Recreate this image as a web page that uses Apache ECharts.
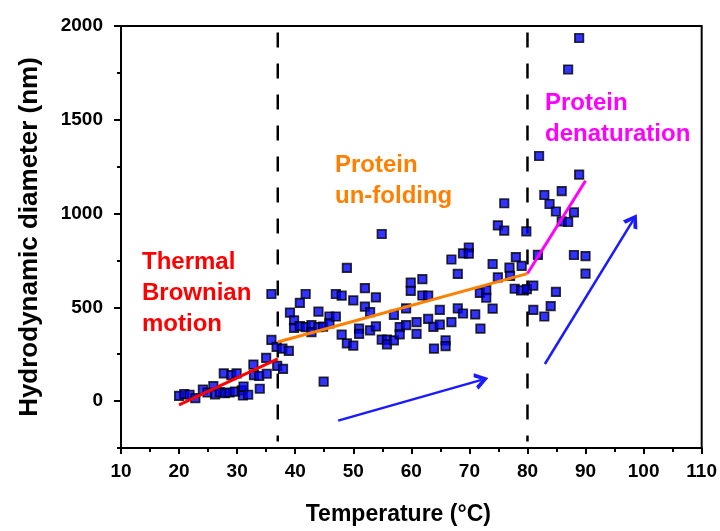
<!DOCTYPE html>
<html>
<head>
<meta charset="utf-8">
<script src="https://cdn.jsdelivr.net/npm/echarts@6/dist/echarts.min.js"></script>
<style>html,body{margin:0;padding:0;background:#fff}#c{width:720px;height:531px}</style>
</head>
<body>
<div id="c"></div>
<script>
// ---- data ----
const temperature = [
  20.0,20.9,21.8,22.8,24.1,24.9,25.9,26.2,27.0,27.7,27.9,28.7,29.0,29.6,29.9,30.8,31.0,31.1,31.9,32.8,32.9,33.8,33.9,35.0,35.1,35.9,35.9,36.8,36.9,37.8,37.9,38.9,
  39.1,39.8,39.8,40.8,40.8,41.8,41.8,42.8,42.8,44.0,44.0,44.8,44.9,45.9,45.9,47.0,47.0,48.0,48.0,48.9,48.9,50.0,50.0,51.0,51.0,52.0,52.0,52.9,52.9,53.9,53.9,54.9,54.9,55.8,55.8,57.0,57.0,58.0,58.0,59.1,59.1,59.9,59.9,60.9,60.9,
  61.9,61.9,62.9,62.9,63.8,63.9,64.9,64.9,65.9,65.9,66.9,66.9,68.0,68.0,68.9,68.9,69.9,69.9,71.0,71.8,71.9,72.9,72.9,74.0,74.0,74.9,74.9,76.0,76.0,76.9,77.0,78.0,77.8,79.0,78.9,79.8,79.9,81.0,81.0,
  81.8,82.0,82.9,82.9,83.8,84.0,84.9,84.9,85.9,85.9,87.0,87.0,88.0,88.0,88.9,88.9,90.0,90.0
];
const diameter = [
  28,38,34,16,62,46,80,36,48,148,42,46,139,51,148,57,30,78,34,195,139,134,66,231,146,571,326,289,188,280,172,268,
  472,430,390,524,400,571,395,405,368,477,395,397,104,451,414,451,571,562,354,710,308,296,537,386,359,602,504,474,377,553,398,891,328,328,303,324,460,395,356,494,405,632,588,421,359,
  650,563,562,438,396,280,486,408,324,293,755,421,678,494,788,467,819,786,462,577,386,592,551,731,493,660,937,1055,909,712,668,768,599,721,590,905,597,616,486,
  780,1307,1099,451,1051,506,1011,582,1120,958,1768,955,1006,779,1936,1208,773,680
];
// linear guide lines (two end points each)
const brownianX = [20, 37], brownianY = [-20, 225];
const unfoldX = [37, 80],   unfoldY = [315, 680];
const denatX = [80, 90],    denatY = [680, 1175];
// phase boundaries (°C) and their vertical extent
const boundaryTemps = [37, 80];
const boundarySpan = [1965, -215];
// trend arrows: [startT, startD, endT, endD]
const arrow1 = [47.4, -104, 72.1, 113];
const arrow2 = [83.0, 198, 98.2, 965];
// axis ticks
const yMajorTicks = [0, 500, 1000, 1500, 2000];
const yMinorTicks = [-250, 250, 750, 1250, 1750];

const FONT = "'Liberation Sans', Arial, sans-serif";
const pts = temperature.map((t, i) => [t, diameter[i]]);
const pair = (xs, ys) => xs.map((x, i) => [x, ys[i]]);
const chevron = 'path://M0,10 L6,0 L12,10 L9.3,11 L6,5.2 L2.7,11 Z';

const chart = echarts.init(document.getElementById('c'), null, {renderer: 'canvas'});
chart.setOption({
  animation: false,
  backgroundColor: '#fff',
  grid: {left: 121, right: 18, top: 26, bottom: 79, show: true, borderColor: '#000', borderWidth: 2},
  xAxis: {
    type: 'value', min: 10, max: 110, interval: 10,
    name: 'Temperature (°C)', nameLocation: 'middle', nameGap: 55,
    nameTextStyle: {fontFamily: FONT, fontWeight: 'bold', fontSize: 23, color: '#000', padding: [0, 26, 0, 0]},
    axisLine: {show: true, onZero: false, lineStyle: {color: '#000', width: 2}},
    axisTick: {show: true, inside: false, length: 6, lineStyle: {color: '#000', width: 2}},
    minorTick: {show: true, splitNumber: 2, length: 4, lineStyle: {color: '#000', width: 2}},
    axisLabel: {fontFamily: FONT, fontWeight: 'bold', fontSize: 19, color: '#000', margin: 14,
                formatter: v => String(v)},
    splitLine: {show: false}
  },
  yAxis: [{
    type: 'value', min: -250, max: 2000,
    name: 'Hydrodynamic diameter (nm)', nameLocation: 'middle', nameGap: 78,
    nameTextStyle: {fontFamily: FONT, fontWeight: 'bold', fontSize: 26, color: '#000'},
    axisLine: {show: true, onZero: false, lineStyle: {color: '#000', width: 2}},
    axisTick: {show: true, length: 7, customValues: yMajorTicks, lineStyle: {color: '#000', width: 2}},
    axisLabel: {fontFamily: FONT, fontWeight: 'bold', fontSize: 19, color: '#000', margin: 18,
                customValues: yMajorTicks, formatter: v => String(v)},
    splitLine: {show: false}
  }, {
    type: 'value', min: -250, max: 2000, position: 'left',
    axisLine: {show: false},
    axisTick: {show: true, length: 4, customValues: yMinorTicks, lineStyle: {color: '#000', width: 2}},
    axisLabel: {show: false},
    splitLine: {show: false}
  }],
  series: [
    {type: 'line', data: pair([boundaryTemps[0], boundaryTemps[0]], boundarySpan), symbol: 'none', silent: true,
     lineStyle: {color: '#000', width: 2.5, type: [15, 16]}, z: 1},
    {type: 'line', data: pair([boundaryTemps[1], boundaryTemps[1]], boundarySpan), symbol: 'none', silent: true,
     lineStyle: {color: '#000', width: 2.5, type: [15, 16]}, z: 1},
    {type: 'scatter', data: pts, symbol: 'rect', symbolSize: 8.5,
     itemStyle: {color: '#0000ff', borderColor: '#000', borderWidth: 1.7}, z: 3},
    {type: 'line', data: pair(brownianX, brownianY), symbol: 'none', lineStyle: {color: '#ff0000', width: 3}, z: 4},
    {type: 'line', data: pair(unfoldX, unfoldY), symbol: 'none', lineStyle: {color: '#ff8000', width: 3}, z: 4},
    {type: 'line', data: pair(denatX, denatY), symbol: 'none', lineStyle: {color: '#ff00ff', width: 3}, z: 4},
    {type: 'line', data: [], silent: true,
     markLine: {
       silent: true, symbol: ['none', chevron], symbolSize: [17, 14],
       label: {show: false},
       lineStyle: {color: '#1a1aff', width: 2.5, type: 'solid'},
       data: [
         [{coord: [arrow1[0], arrow1[1]]}, {coord: [arrow1[2], arrow1[3]]}],
         [{coord: [arrow2[0], arrow2[1]]}, {coord: [arrow2[2], arrow2[3]]}]
       ]
     }}
  ],
  graphic: [
    {type: 'text', left: 142, top: 247, z: 10,
     style: {text: 'Thermal\nBrownian\nmotion', fill: '#ff0000', font: "bold 24px " + FONT, lineHeight: 31}},
    {type: 'text', left: 335, top: 150, z: 10,
     style: {text: 'Protein\nun-folding', fill: '#ff8000', font: "bold 24px " + FONT, lineHeight: 31}},
    {type: 'text', left: 545, top: 88, z: 10,
     style: {text: 'Protein\ndenaturation', fill: '#ff00ff', font: "bold 24px " + FONT, lineHeight: 31}}
  ]
});
</script>
</body>
</html>
